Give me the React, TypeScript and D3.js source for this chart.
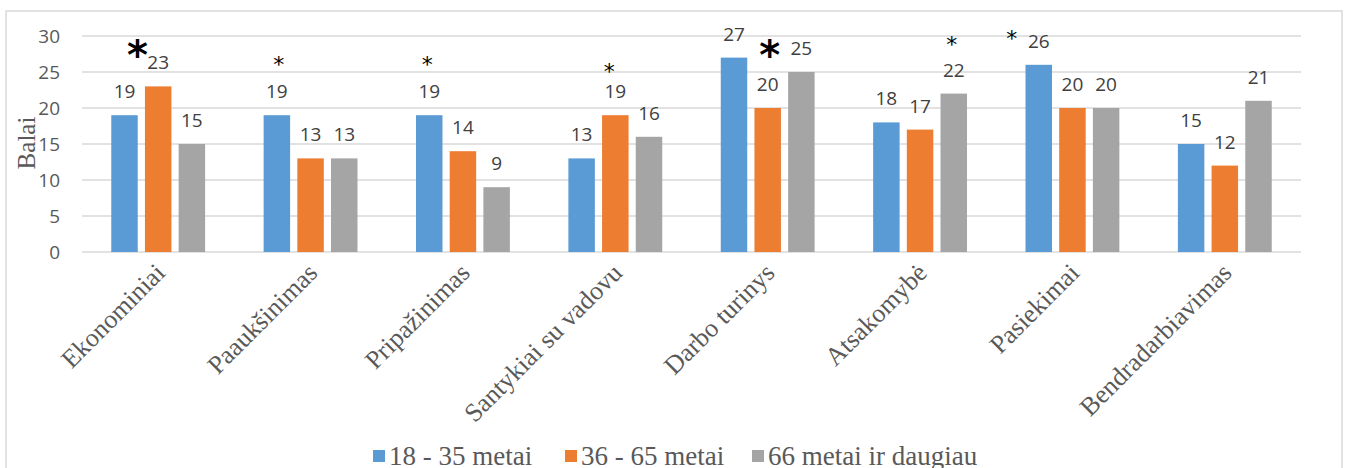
import React from 'react';
import * as d3 from 'd3';

// kategorijos ir amžiaus grupės
const categories = [
  'Ekonominiai',
  'Paaukšinimas',
  'Pripažinimas',
  'Santykiai su vadovu',
  'Darbo turinys',
  'Atsakomybė',
  'Pasiekimai',
  'Bendradarbiavimas',
];
const seriesNames = ['18 - 35 metai', '36 - 65 metai', '66 metai ir daugiau'];
const young = [19, 19, 19, 13, 27, 18, 26, 15];
const middle = [23, 13, 14, 19, 20, 17, 20, 12];
const senior = [15, 13, 9, 16, 25, 22, 20, 21];
const yTicks = [0, 5, 10, 15, 20, 25, 30];

// asterisks marking significant differences: category index, series index, glyph kind
const marks = [
  { cat: 0, ser: 0, kind: 'big' },
  { cat: 1, ser: 0, kind: 'small' },
  { cat: 2, ser: 0, kind: 'small' },
  { cat: 3, ser: 1, kind: 'small' },
  { cat: 4, ser: 1, kind: 'big' },
  { cat: 5, ser: 2, kind: 'small' },
  { cat: 6, ser: 0, kind: 'small' },
];
// pixel nudges of each asterisk from the top of its bar
const markNudge = [
  [13, -57],
  [2, -49],
  [-2, -49],
  [-6, -42],
  [2, -50],
  [-2, -48],
  [-27, -25],
];

const colors = ['#5B9BD5', '#ED7D31', '#A5A5A5'];
const W = 1346;
const H = 468;
const margin = { top: 36, right: 45, bottom: 216, left: 82 };

export default function App() {
  const values = [young, middle, senior];
  const innerW = W - margin.left - margin.right;
  const innerH = H - margin.top - margin.bottom;

  const x0 = d3.scaleBand<number>()
    .domain(d3.range(categories.length))
    .range([0, innerW])
    .paddingInner(0.384)
    .paddingOuter(0.192);
  const x1 = d3.scaleBand<number>()
    .domain(d3.range(seriesNames.length))
    .range([0, x0.bandwidth()])
    .paddingInner(0.214);
  const y = d3.scaleLinear().domain([0, 30]).range([innerH, 0]);

  const barCx = (c: number, s: number) => (x0(c) ?? 0) + (x1(s) ?? 0) + x1.bandwidth() / 2;

  const markSize: Record<string, { size: number; weight: string }> = {
    big: { size: 40, weight: 'bold' },
    small: { size: 22, weight: 'normal' },
  };

  const sans = 'Open Sans, Lato, sans-serif';
  const serif = 'Liberation Serif, Times New Roman, serif';

  // legend layout
  const legendX = [373, 565, 752];

  return (
    <svg width={W} height={H} style={{ position: 'absolute', left: 0, top: 0, background: '#fff' }}>
      <rect x={6} y={11} width={1336} height={470} fill="#fff" stroke="#d9d9d9" strokeWidth={1.5} />
      <g transform={`translate(${margin.left},${margin.top})`}>
        {yTicks.map(t => (
          <g key={t}>
            <line x1={0} x2={innerW} y1={y(t)} y2={y(t)} stroke="#d9d9d9" strokeWidth={1.5} />
            <text x={-22} y={y(t)} dy="0.35em" textAnchor="end" fontFamily={sans} fontSize={19} fill="#595959">
              {t}
            </text>
          </g>
        ))}
        {categories.map((c, ci) => (
          <g key={c}>
            {values.map((vals, si) => (
              <g key={si}>
                <rect
                  x={(x0(ci) ?? 0) + (x1(si) ?? 0)}
                  y={y(vals[ci])}
                  width={x1.bandwidth()}
                  height={innerH - y(vals[ci])}
                  fill={colors[si]}
                />
                <text
                  x={barCx(ci, si)}
                  y={y(vals[ci]) - 17}
                  textAnchor="middle"
                  fontFamily={sans}
                  fontSize={19}
                  fill="#404040"
                >
                  {vals[ci]}
                </text>
              </g>
            ))}
            <text
              transform={`translate(${(x0(ci) ?? 0) + x0.bandwidth() / 2 + 2},${innerH + 16}) rotate(-45)`}
              dy="0.35em"
              textAnchor="end"
              fontFamily={serif}
              fontSize={26}
              fill="#595959"
            >
              {c}
            </text>
          </g>
        ))}
        {marks.map((m, i) => {
          const st = markSize[m.kind];
          return (
            <text
              key={i}
              x={barCx(m.cat, m.ser) + markNudge[i][0]}
              y={y(values[m.ser][m.cat]) + markNudge[i][1]}
              textAnchor="middle"
              dominantBaseline="middle"
              fontFamily="DejaVu Sans, sans-serif"
              fontWeight={st.weight}
              fontSize={st.size}
              fill="#000"
            >
              *
            </text>
          );
        })}
        <text
          transform={`translate(${35 - margin.left},${innerH / 2 - 1}) rotate(-90)`}
          textAnchor="middle"
          fontFamily={serif}
          fontSize={25}
          fill="#595959"
        >
          Balai
        </text>
      </g>
      {seriesNames.map((s, i) => (
        <g key={s}>
          <rect x={legendX[i]} y={450} width={12} height={12} fill={colors[i]} />
          <text x={legendX[i] + 16} y={465} fontFamily={serif} fontSize={27} fill="#595959">
            {s}
          </text>
        </g>
      ))}
    </svg>
  );
}
